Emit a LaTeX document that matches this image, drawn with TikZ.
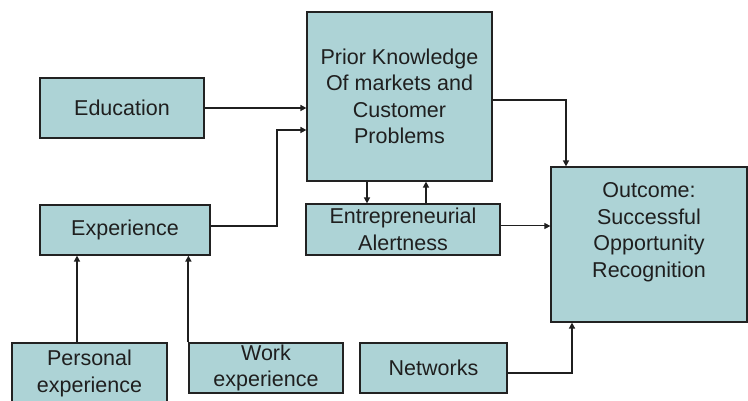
\documentclass[tikz,border=0pt]{standalone}
\usepackage{fontspec}
\setmainfont{Liberation Sans}
\usetikzlibrary{arrows.meta, calc, positioning}
\definecolor{boxfill}{RGB}{173,211,214}
\definecolor{boxline}{RGB}{34,34,34}

\begin{document}
\begin{tikzpicture}[x=1pt, y=1pt,
    box/.style={draw=boxline, line width=1.2pt, fill=boxfill, align=center, inner sep=0pt,
        font=\fontsize{21.5}{26.5}\selectfont, text=black!88},
    boxtext/.style={align=center, inner sep=0pt, font=\fontsize{21.5}{26.5}\selectfont, text=black!88},
    arr/.style={draw=black!88, line width=2pt, -{Triangle[length=6pt, width=6pt]}},
    thinarr/.style={arr, line width=1pt}]

    \useasboundingbox (0,0) rectangle (748,401);

    % Boxes
    \node[box, minimum width=164pt, minimum height=60pt] (edu) at (122,293) {Education};
    \node[box, minimum width=185pt, minimum height=169pt] (prior) at (399.5,304.5)
        {Prior Knowledge\\Of markets and\\Customer\\Problems};
    \node[box, minimum width=170pt, minimum height=50pt] (exp) at (125,171) {Experience};
    \node[box, minimum width=194pt, minimum height=51pt] (alert) at (403,171.5)
        {Entrepreneurial\\Alertness};
    \node[box, minimum width=196pt, minimum height=155pt] (outcome) at (649,156.5) {};
    \node[boxtext] (outcomeText) at ([yshift=12.5pt]outcome.center)
        {Outcome:\\Successful\\Opportunity\\Recognition};
    \node[box, minimum width=155pt, minimum height=61pt] (personal) at (89.5,27.5)
        {Personal\\experience};
    \node[box, minimum width=154pt, minimum height=50pt] (work) at (266,33)
        {Work\\experience};
    \node[box, minimum width=147pt, minimum height=50pt] (net) at (433.5,33) {Networks};

    % Bend points
    \coordinate (expBend) at (277,271);
    \coordinate (priorBend) at (566,301);

    % Arrows into prior knowledge
    \draw[arr] (edu.east) -- (edu.east -| prior.west);
    \draw[arr] ([yshift=4pt]exp.east) -| (expBend) -- (expBend -| prior.west);

    % Prior knowledge and alertness
    \draw[arr] ([xshift=-32.5pt]prior.south) -- ([xshift=-32.5pt]prior.south |- alert.north);
    \draw[arr] ([xshift=23pt]alert.north) -- ([xshift=23pt]alert.north |- prior.south);

    % Arrows into outcome
    \draw[arr] (prior.east |- priorBend) -- (priorBend) -- (priorBend |- outcome.north);
    \draw[thinarr] ([yshift=3.5pt]alert.east) -- ([yshift=3.5pt]alert.east -| outcome.west);
    \draw[arr] ([yshift=-5pt]net.east) -| ([xshift=-77pt]outcome.south);

    % Arrows into experience
    \draw[arr] ([xshift=-12.5pt]personal.north) -- ([xshift=-12.5pt]personal.north |- exp.south);
    \draw[arr] (work.north west) -- (work.north west |- exp.south);
\end{tikzpicture}
\end{document}
